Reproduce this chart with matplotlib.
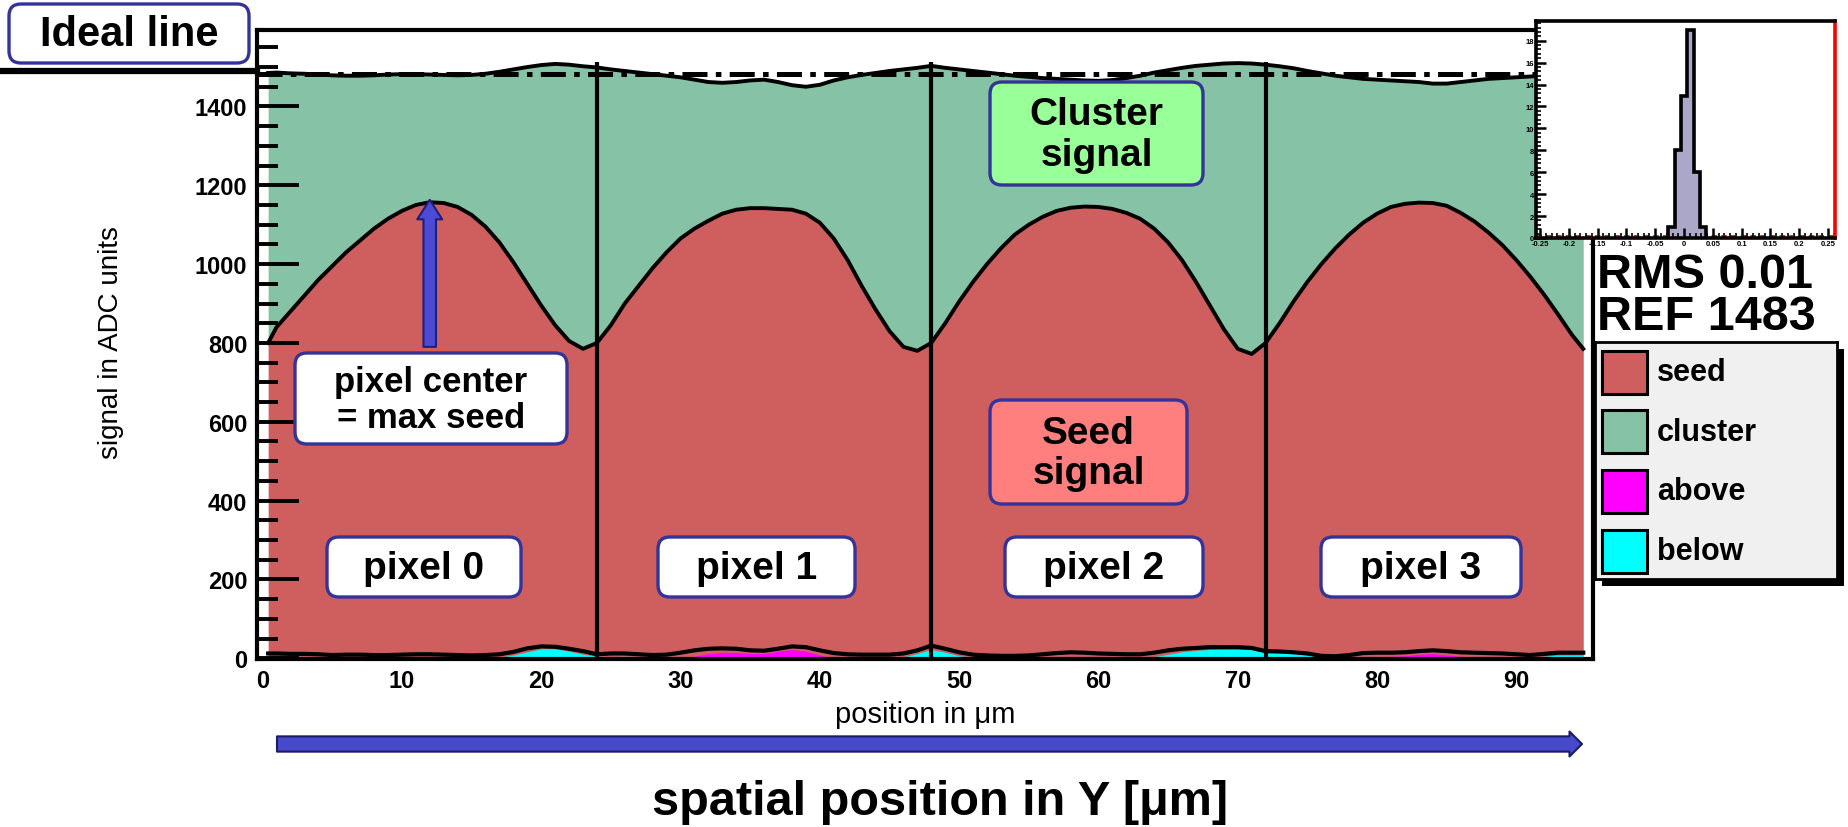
import numpy as np
import matplotlib
matplotlib.use("Agg")
import matplotlib.pyplot as plt
from matplotlib.patches import FancyBboxPatch, Rectangle
from matplotlib.ticker import MultipleLocator, FuncFormatter

plt.rcParams['font.family'] = ['Liberation Sans', 'DejaVu Sans']
plt.rcParams['lines.scale_dashes'] = False

# ---------------- data ----------------
positions = [0.4] + list(range(1, 95)) + [94.8]

seed = [800, 840, 880, 920, 960, 995, 1030, 1060, 1090, 1115,
        1135, 1150, 1157, 1155, 1145, 1125, 1095, 1055, 1005, 950,
        895, 845, 805, 785, 800, 845, 900, 945, 990, 1030,
        1065, 1090, 1110, 1128, 1138, 1142, 1142, 1140, 1138, 1128,
        1105, 1065, 1010, 945, 885, 830, 790, 780, 800, 850,
        905, 955, 1000, 1040, 1075, 1100, 1120, 1135, 1143, 1146,
        1145, 1140, 1130, 1115, 1090, 1055, 1010, 955, 895, 835,
        785, 772, 800, 850, 905, 955, 1000, 1040, 1075, 1105,
        1128, 1145, 1153, 1156, 1155, 1148, 1130, 1108, 1080, 1048,
        1010, 968, 922, 872, 820, 785]

cluster = [1485, 1486, 1484, 1483, 1481, 1479, 1478, 1478, 1479, 1481,
           1482, 1482, 1481, 1480, 1479, 1480, 1483, 1488, 1494, 1500,
           1505, 1508, 1506, 1502, 1499, 1494, 1490, 1486, 1482, 1478,
           1474, 1468, 1462, 1460, 1462, 1466, 1468, 1462, 1454, 1450,
           1455, 1466, 1474, 1480, 1485, 1490, 1494, 1498, 1503, 1498,
           1494, 1490, 1486, 1482, 1478, 1475, 1472, 1470, 1468, 1466,
           1465, 1467, 1472, 1478, 1486, 1492, 1498, 1503, 1506, 1509,
           1510, 1509, 1506, 1502, 1497, 1490, 1484, 1478, 1474, 1470,
           1468, 1466, 1464, 1462, 1458, 1458, 1462, 1466, 1470, 1472,
           1474, 1476, 1478, 1480, 1482, 1484]

low_outline = [12, 12, 11, 11, 10, 8, 9, 9, 8, 8,
               9, 10, 10, 9, 8, 7, 8, 10, 16, 25,
               30, 29, 24, 18, 10, 12, 12, 10, 8, 9,
               14, 20, 24, 25, 24, 20, 19, 24, 30, 28,
               20, 13, 10, 9, 9, 9, 12, 20, 32, 24,
               15, 9, 7, 6, 6, 7, 10, 13, 15, 14,
               12, 11, 10, 10, 14, 20, 24, 26, 28, 28,
               28, 26, 18, 17, 15, 12, 6, 5, 8, 13,
               14, 14, 15, 18, 20, 18, 15, 14, 13, 12,
               10, 8, 11, 14, 14, 14]

below = [3, 3, 3, 3, 3, 0, 0, 3, 0, 0,
         0, 0, 0, 0, 0, 0, 0, 3, 8, 16,
         24, 24, 18, 10, 5, 4, 5, 4, 0, 0,
         3, 0, 0, 0, 0, 0, 0, 0, 0, 0,
         0, 3, 3, 0, 0, 0, 3, 12, 22, 15,
         6, 3, 3, 0, 0, 0, 0, 0, 0, 0,
         3, 3, 0, 0, 4, 10, 16, 20, 22, 23,
         23, 22, 14, 14, 12, 8, 2, 0, 0, 0,
         0, 0, 0, 0, 0, 0, 0, 0, 0, 3,
         0, 0, 5, 8, 8, 8]

above = [0, 0, 0, 0, 0, 0, 0, 0, 0, 0,
         0, 0, 0, 0, 0, 0, 0, 0, 0, 0,
         0, 0, 0, 0, 0, 0, 0, 0, 0, 0,
         0, 5, 12, 15, 15, 12, 12, 18, 22, 18,
         8, 0, 0, 0, 0, 0, 0, 0, 0, 0,
         0, 0, 0, 0, 0, 0, 0, 0, 5, 4,
         0, 0, 0, 0, 0, 0, 0, 0, 0, 0,
         0, 0, 0, 0, 0, 0, 0, 0, 0, 3,
         4, 5, 6, 10, 12, 8, 5, 4, 3, 0,
         0, 3, 0, 0, 0, 0]

pixel_edges = [24, 48, 72]
pixel_centers = [12, 36, 60, 84]
pixel_labels = ['pixel 0', 'pixel 1', 'pixel 2', 'pixel 3']
ref_value = 1483
rms_value = 0.01
y_ticks = [0, 200, 400, 600, 800, 1000, 1200, 1400]
x_ticks = [0, 10, 20, 30, 40, 50, 60, 70, 80, 90]

hist_edges = [-0.028, -0.0165, -0.0055, 0.0055, 0.0165, 0.0275, 0.0385]
hist_counts = [1, 8, 13, 19, 6, 1]

legend_labels = ['seed', 'cluster', 'above', 'below']
c_seed, c_cluster, c_above, c_below = '#cf5f5f', '#86c2a5', '#ff00ff', '#00ffff'
legend_colors = [c_seed, c_cluster, c_above, c_below]
box_edge = '#333399'

# ---------------- figure ----------------
W, H = 1849, 828
fig = plt.figure(figsize=(W / 100, H / 100), dpi=100)
fig.patch.set_facecolor('white')

ax = fig.add_axes([257 / W, 1 - 660 / H, (1593 - 257) / W, (660 - 31) / H], zorder=0)
ax.set_xlim(-0.4, 95.5)
ax.set_ylim(-2, 1594)

ax.fill_between(positions, seed, cluster, color=c_cluster, lw=0, zorder=1)
ax.fill_between(positions, 0, seed, color=c_seed, lw=0, zorder=1)
ax.fill_between(positions, 0, below, color=c_below, lw=0, zorder=1.2)
ax.fill_between(positions, 0, above, color=c_above, lw=0, zorder=1.3)
ax.plot(positions, cluster, color='k', lw=2.8, zorder=3)
ax.plot(positions, seed, color='k', lw=2.8, zorder=3)
ax.plot(positions, low_outline, color='k', lw=3.0, zorder=3)
ax.vlines(pixel_edges, 0, 1512, colors='k', lw=3, zorder=3.5)

# ideal line (dash-dot) and its extension to the label
ax.axhline(ref_value, color='k', lw=3.6, ls=(0, (18, 6, 4, 6)), zorder=4)
ax.plot([-0.195, 0], [ref_value + 8, ref_value + 8], color='k', lw=4.5,
        transform=ax.get_yaxis_transform(), clip_on=False, zorder=4)

# arrow to the seed maximum
ax.annotate('', xy=(pixel_centers[0], 1163), xytext=(pixel_centers[0], 790),
            arrowprops=dict(arrowstyle='simple,head_width=0.9,head_length=0.7,tail_width=0.45',
                            mutation_scale=20, fc='#4b4bd6', ec='#1f1f7a', lw=1.5,
                            shrinkA=0, shrinkB=0), zorder=5)

ax.set_xticks(x_ticks)
ax.set_yticks(y_ticks)
ax.yaxis.set_minor_locator(MultipleLocator(50))
ax.tick_params(axis='y', which='major', direction='in', length=30, width=2.8,
               labelsize=17, pad=7)
ax.tick_params(axis='y', which='minor', direction='in', length=15, width=2.8)
ax.tick_params(axis='x', which='both', length=0, labelsize=17, pad=7)
for lab in ax.get_xticklabels() + ax.get_yticklabels():
    lab.set_fontweight('bold')
for s in ax.spines.values():
    s.set_linewidth(3)

fig.text(111 / W, 1 - 343 / H, 'signal in ADC units', rotation=90, fontsize=20,
         ha='center', va='center')
fig.text(925 / W, 1 - 715 / H, 'position in μm', fontsize=21, ha='center', va='center')
fig.text(940 / W, 1 - 803 / H, 'spatial position in Y [μm]', fontsize=35,
         fontweight='bold', ha='center', va='center')

# ---------------- overlay in pixel coordinates ----------------
ov = fig.add_axes([0, 0, 1, 1], zorder=3)
ov.set_xlim(0, W)
ov.set_ylim(H, 0)
ov.axis('off')


def rbox(x0, y0, x1, y1, fc, text, size, ls=1.15, r=12):
    ov.add_patch(FancyBboxPatch((x0 + r, y0 + r), x1 - x0 - 2 * r, y1 - y0 - 2 * r,
                                boxstyle=f'round,pad={r}', fc=fc, ec=box_edge, lw=2.4))
    ov.text((x0 + x1) / 2, (y0 + y1) / 2 + 1, text, ha='center', va='center',
            fontsize=size, fontweight='bold', linespacing=ls)


rbox(9, 5, 249, 64, 'white', 'Ideal line', 30)
rbox(990, 83, 1203, 186, '#99ff99', 'Cluster\nsignal', 28)
rbox(990, 401, 1187, 505, '#ff7f7f', 'Seed\nsignal', 28)
rbox(295, 354, 567, 445, 'white', 'pixel center\n= max seed', 25, ls=1.1)
for (bx0, bx1), lab in zip([(327, 521), (658, 855), (1005, 1203), (1321, 1521)], pixel_labels):
    rbox(bx0, 538, bx1, 598, 'white', lab, 28)

# bottom arrow
ov.annotate('', xy=(1582, 745), xytext=(277, 745),
            arrowprops=dict(arrowstyle='simple,head_width=0.9,head_length=0.45,tail_width=0.55',
                            mutation_scale=20, fc='#4949cc', ec='#1c1c66', lw=1.5,
                            shrinkA=0, shrinkB=0))
ov.plot([282, 1565], [741, 741], color='#7f7ff0', lw=2.2, solid_capstyle='butt')

# legend shadow
ov.add_patch(Rectangle((1602, 350), 242, 237, fc='black', ec='none'))

# RMS / REF text
fig.text(1597 / W, 1 - 288 / H, f'RMS {rms_value}', fontsize=35, fontweight='bold', va='baseline')
fig.text(1597 / W, 1 - 330 / H, f'REF {ref_value}', fontsize=35, fontweight='bold', va='baseline')

# ---------------- legend ----------------
lax = fig.add_axes([1595 / W, 1 - 580 / H, 242 / W, 237 / H], zorder=4)
lax.set_xlim(1595, 1837)
lax.set_ylim(580, 343)
lax.set_facecolor('#f0f0f0')
lax.set_xticks([])
lax.set_yticks([])
for s in lax.spines.values():
    s.set_linewidth(2)
for i, (lab, col) in enumerate(zip(legend_labels, legend_colors)):
    yc = 373 + i * 59.7
    lax.add_patch(Rectangle((1602, yc - 21.5), 45, 43, fc=col, ec='k', lw=2.2))
    lax.text(1657, yc, lab, fontsize=22, fontweight='bold', va='center', ha='left')

# ---------------- inset histogram ----------------
iax = fig.add_axes([1536 / W, 1 - 239 / H, (1835 - 1536) / W, (239 - 22) / H], zorder=4)
iax.set_facecolor('white')
iax.stairs(hist_counts, hist_edges, fill=True, color='#aba7c9')
iax.stairs(hist_counts, hist_edges, color='k', lw=2.6, baseline=0)
iax.axhline(0.15, color='red', lw=2, ls=(0, (4, 3)), zorder=0.5)
iax.set_xlim(-0.257, 0.262)
iax.set_ylim(0, 19.8)
iax.xaxis.set_major_locator(MultipleLocator(0.05))
iax.xaxis.set_minor_locator(MultipleLocator(0.01))
iax.yaxis.set_major_locator(MultipleLocator(2))
iax.yaxis.set_minor_locator(MultipleLocator(0.4))


def tick_fmt(v, _):
    v = round(v, 2)
    return '0' if v == 0 else f'{v:g}'


iax.xaxis.set_major_formatter(FuncFormatter(tick_fmt))
iax.yaxis.set_major_formatter(FuncFormatter(tick_fmt))
iax.tick_params(which='major', direction='in', length=7, width=1.8, labelsize=5.5, pad=1.5)
iax.tick_params(which='minor', direction='in', length=3.5, width=1.2)
for lab in iax.get_xticklabels() + iax.get_yticklabels():
    lab.set_fontweight('bold')
for s in iax.spines.values():
    s.set_linewidth(2.6)
iax.spines['right'].set_color('red')

fig.savefig('out.png', dpi=100)
